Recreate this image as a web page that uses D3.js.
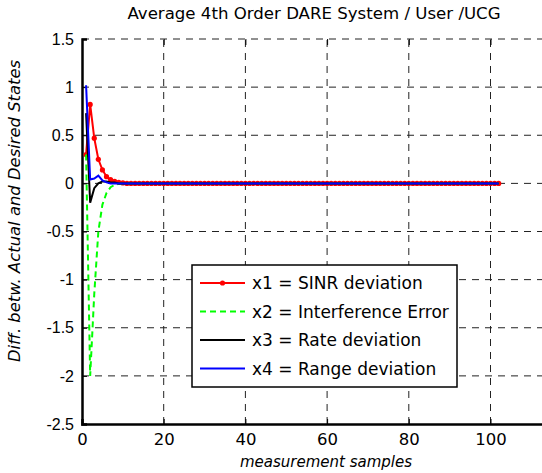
<!DOCTYPE html>
<html>
<head>
<meta charset="utf-8">
<script src="https://cdn.jsdelivr.net/npm/d3@7"></script>
<style>
body { margin: 0; background: #fff; }
svg { display: block; }
</style>
</head>
<body>
<script>
var width = 542;
var height = 473;

// samples 1..102
var samples = d3.range(1, 103);

var x1 = [0.30, 0.82, 0.47, 0.25, 0.14, 0.07, 0.04, 0.02, 0.01, 0.005, 0, 0, 0, 0, 0, 0, 0, 0, 0, 0,
  0, 0, 0, 0, 0, 0, 0, 0, 0, 0, 0, 0, 0, 0, 0, 0, 0, 0, 0, 0, 0, 0, 0, 0, 0, 0, 0, 0, 0, 0,
  0, 0, 0, 0, 0, 0, 0, 0, 0, 0, 0, 0, 0, 0, 0, 0, 0, 0, 0, 0, 0, 0, 0, 0, 0, 0, 0, 0, 0, 0,
  0, 0, 0, 0, 0, 0, 0, 0, 0, 0, 0, 0, 0, 0, 0, 0, 0, 0, 0, 0, 0, 0];
var x2 = [0.30, -2.0, -1.15, -0.5, -0.22, -0.1, -0.04, -0.015, -0.005, 0, 0, 0, 0, 0, 0, 0, 0, 0, 0, 0,
  0, 0, 0, 0, 0, 0, 0, 0, 0, 0, 0, 0, 0, 0, 0, 0, 0, 0, 0, 0, 0, 0, 0, 0, 0, 0, 0, 0, 0, 0,
  0, 0, 0, 0, 0, 0, 0, 0, 0, 0, 0, 0, 0, 0, 0, 0, 0, 0, 0, 0, 0, 0, 0, 0, 0, 0, 0, 0, 0, 0,
  0, 0, 0, 0, 0, 0, 0, 0, 0, 0, 0, 0, 0, 0, 0, 0, 0, 0, 0, 0, 0, 0];
var x3 = [0.73, -0.2, -0.05, 0.0, 0.02, 0.02, 0.01, 0.01, 0, 0, 0, 0, 0, 0, 0, 0, 0, 0, 0, 0,
  0, 0, 0, 0, 0, 0, 0, 0, 0, 0, 0, 0, 0, 0, 0, 0, 0, 0, 0, 0, 0, 0, 0, 0, 0, 0, 0, 0, 0, 0,
  0, 0, 0, 0, 0, 0, 0, 0, 0, 0, 0, 0, 0, 0, 0, 0, 0, 0, 0, 0, 0, 0, 0, 0, 0, 0, 0, 0, 0, 0,
  0, 0, 0, 0, 0, 0, 0, 0, 0, 0, 0, 0, 0, 0, 0, 0, 0, 0, 0, 0, 0, 0];
var x4 = [1.02, 0.04, 0.05, 0.08, 0.03, 0.01, 0, 0, 0, 0, 0, 0, 0, 0, 0, 0, 0, 0, 0, 0,
  0, 0, 0, 0, 0, 0, 0, 0, 0, 0, 0, 0, 0, 0, 0, 0, 0, 0, 0, 0, 0, 0, 0, 0, 0, 0, 0, 0, 0, 0,
  0, 0, 0, 0, 0, 0, 0, 0, 0, 0, 0, 0, 0, 0, 0, 0, 0, 0, 0, 0, 0, 0, 0, 0, 0, 0, 0, 0, 0, 0,
  0, 0, 0, 0, 0, 0, 0, 0, 0, 0, 0, 0, 0, 0, 0, 0, 0, 0, 0, 0, 0, 0];

var seriesNames = ["x1 = SINR deviation", "x2 = Interference Error", "x3 = Rate deviation", "x4 = Range deviation"];
var seriesColors = ["#ff0000", "#00ff00", "#000000", "#0000ff"];
var seriesDash = [null, "6,4", null, null];

var xTicks = [0, 20, 40, 60, 80, 100];
var yTicks = [1.5, 1, 0.5, 0, -0.5, -1, -1.5, -2, -2.5];

var comic = "'DejaVu Sans', sans-serif";

var margin = {top: 39, bottom: 49, left: 82};

var svg = d3.select("body").append("svg")
    .attr("width", width)
    .attr("height", height);

var xScale = d3.scaleLinear().domain([0, 120]).range([margin.left, margin.left + 4.085 * 120]);
var yScale = d3.scaleLinear().domain([-2.5, 1.5]).range([height - margin.bottom, margin.top]);

// grid
svg.append("g").selectAll("line")
    .data(yTicks.filter(function(d){ return d > -2.5; }))
    .enter().append("line")
    .attr("x1", xScale(0)).attr("x2", width)
    .attr("y1", function(d){ return yScale(d); })
    .attr("y2", function(d){ return yScale(d); })
    .attr("stroke", "#222").attr("stroke-width", 1)
    .attr("stroke-dasharray", "7,6");

svg.append("g").selectAll("line")
    .data(xTicks.filter(function(d){ return d > 0; }))
    .enter().append("line")
    .attr("x1", function(d){ return xScale(d); })
    .attr("x2", function(d){ return xScale(d); })
    .attr("y1", yScale(-2.5)).attr("y2", yScale(1.5))
    .attr("stroke", "#222").attr("stroke-width", 1)
    .attr("stroke-dasharray", "7,6");

// axes
var xAxis = d3.axisBottom(xScale).tickValues(xTicks).tickSize(-5).tickPadding(9).tickFormat(function(d){ return d; });
var gx = svg.append("g")
    .attr("transform", "translate(0," + yScale(-2.5) + ")")
    .call(xAxis);
gx.select(".domain").attr("stroke-width", 2.5);
gx.selectAll("text").attr("font-family", comic).attr("font-size", 16.5).attr("fill", "#000");

var gxTop = svg.append("g")
    .attr("transform", "translate(0," + yScale(1.5) + ")")
    .call(d3.axisTop(xScale).tickValues(xTicks).tickSize(-6).tickFormat(""));
gxTop.select(".domain").remove();

var yAxis = d3.axisLeft(yScale).tickValues(yTicks).tickSize(-5).tickPadding(8).tickFormat(function(d){ return String(d); });
var gy = svg.append("g")
    .attr("transform", "translate(" + xScale(0) + ",0)")
    .call(yAxis);
gy.select(".domain").attr("stroke-width", 2.5);
gy.selectAll("text").attr("font-family", "'Liberation Sans', Arial, sans-serif").attr("font-size", 16).attr("fill", "#000");

// series
var line = d3.line()
    .x(function(d){ return xScale(d[0]); })
    .y(function(d){ return yScale(d[1]); });

var allSeries = [x1, x2, x3, x4];
allSeries.forEach(function(vals, i){
    var pts = samples.map(function(s, j){ return [s, vals[j]]; });
    svg.append("path")
        .datum(pts)
        .attr("fill", "none")
        .attr("stroke", seriesColors[i])
        .attr("stroke-width", 2)
        .attr("stroke-dasharray", seriesDash[i])
        .attr("d", line);
    if (i === 0) {
        svg.append("g").selectAll("circle")
            .data(pts).enter().append("circle")
            .attr("cx", function(d){ return xScale(d[0]); })
            .attr("cy", function(d){ return yScale(d[1]); })
            .attr("r", 2.6)
            .attr("fill", seriesColors[i]);
    }
});

// legend
var lg = svg.append("g").attr("transform", "translate(192,265)");
lg.append("rect")
    .attr("width", 265).attr("height", 122)
    .attr("fill", "#fff").attr("stroke", "#000").attr("stroke-width", 1.5);
seriesNames.forEach(function(name, i){
    var yy = 18 + i * 28.5;
    lg.append("line")
        .attr("x1", 8).attr("x2", 53)
        .attr("y1", yy).attr("y2", yy)
        .attr("stroke", seriesColors[i]).attr("stroke-width", 2)
        .attr("stroke-dasharray", seriesDash[i]);
    if (i === 0) {
        lg.append("circle").attr("cx", 30.5).attr("cy", yy).attr("r", 2.6).attr("fill", seriesColors[i]);
    }
    lg.append("text")
        .attr("x", 60).attr("y", yy + 6)
        .attr("font-family", comic).attr("font-size", 17)
        .text(name);
});

// title and labels
svg.append("text")
    .attr("x", 314).attr("y", 19)
    .attr("text-anchor", "middle")
    .attr("font-family", comic).attr("font-size", 16.6)
    .text("Average 4th Order DARE System / User /UCG");

svg.append("text")
    .attr("x", 326).attr("y", 467)
    .attr("text-anchor", "middle")
    .attr("font-family", comic).attr("font-size", 15).attr("font-style", "italic")
    .text("measurement samples");

svg.append("text")
    .attr("transform", "translate(20,211) rotate(-90)")
    .attr("text-anchor", "middle")
    .attr("font-family", comic).attr("font-size", 16.4).attr("font-style", "italic")
    .text("Diff. betw. Actual and Desired States");
</script>
</body>
</html>
